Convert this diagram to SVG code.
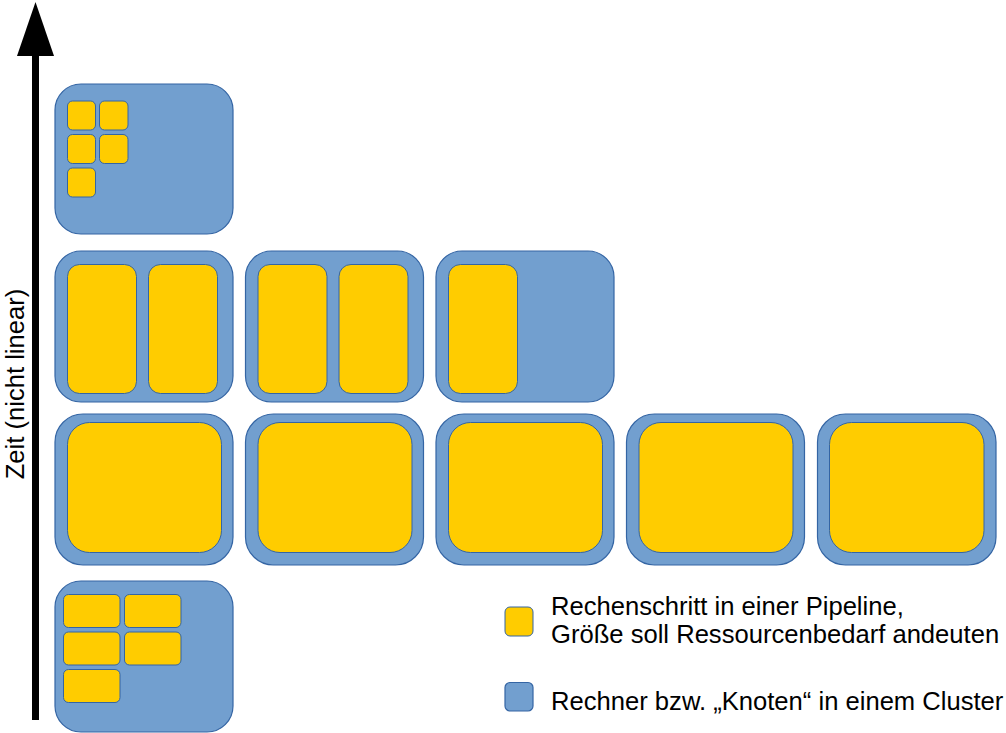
<svg xmlns="http://www.w3.org/2000/svg" width="1006" height="733" viewBox="0 0 1006 733">
<style>
.node{fill:#729fcf;stroke:#3465a4;stroke-width:1.2}
.step{fill:#ffcc00;stroke:#3465a4;stroke-width:1}
.txt{font-family:"Liberation Sans",Arial,sans-serif;font-size:25.6px;fill:#000}
</style>
<rect width="1006" height="733" fill="#fff"/>
<g id="axis">
<rect x="32" y="54" width="7" height="666" fill="#000"/>
<polygon points="35.5,2 17,56 54,56" fill="#000"/>
<text class="txt" transform="translate(24,384) rotate(-90)" text-anchor="middle">Zeit (nicht linear)</text>
</g>
<g id="node-top">
<rect class="node" x="55" y="84" width="178" height="150" rx="26"/>
<rect class="step" x="67.5" y="101" width="28" height="29" rx="5"/>
<rect class="step" x="99.5" y="101" width="28.5" height="29" rx="5"/>
<rect class="step" x="67.5" y="134.5" width="28" height="29" rx="5"/>
<rect class="step" x="99.5" y="134.5" width="28.5" height="29" rx="5"/>
<rect class="step" x="67.5" y="168" width="28" height="29" rx="5"/>
</g>
<g id="node-r2-1">
<rect class="node" x="55" y="251" width="178" height="151" rx="26"/>
<rect class="step" x="67.5" y="264.5" width="69" height="129" rx="12"/>
<rect class="step" x="148.5" y="264.5" width="69" height="129" rx="12"/>
</g>
<g id="node-r2-2">
<rect class="node" x="245.5" y="251" width="178" height="151" rx="26"/>
<rect class="step" x="258" y="264.5" width="69" height="129" rx="12"/>
<rect class="step" x="339" y="264.5" width="69" height="129" rx="12"/>
</g>
<g id="node-r2-3">
<rect class="node" x="436" y="251" width="178" height="151" rx="26"/>
<rect class="step" x="448.5" y="264.5" width="69" height="129" rx="12"/>
</g>
<g id="node-r3-1">
<rect class="node" x="55" y="414" width="178" height="151" rx="28"/>
<rect class="step" x="67.5" y="422.5" width="154" height="130" rx="22"/>
</g>
<g id="node-r3-2">
<rect class="node" x="245.5" y="414" width="178" height="151" rx="28"/>
<rect class="step" x="258" y="422.5" width="154" height="130" rx="22"/>
</g>
<g id="node-r3-3">
<rect class="node" x="436" y="414" width="178" height="151" rx="28"/>
<rect class="step" x="448.5" y="422.5" width="154" height="130" rx="22"/>
</g>
<g id="node-r3-4">
<rect class="node" x="626.5" y="414" width="178" height="151" rx="28"/>
<rect class="step" x="639" y="422.5" width="154" height="130" rx="22"/>
</g>
<g id="node-r3-5">
<rect class="node" x="817.5" y="414" width="178.5" height="151" rx="28"/>
<rect class="step" x="829.5" y="422.5" width="154.5" height="130" rx="22"/>
</g>
<g id="node-bottom">
<rect class="node" x="55" y="581" width="178" height="151" rx="26"/>
<rect class="step" x="63.5" y="594.5" width="56.5" height="33" rx="5"/>
<rect class="step" x="124.5" y="594.5" width="56.5" height="33" rx="5"/>
<rect class="step" x="63.5" y="632" width="56.5" height="33" rx="5"/>
<rect class="step" x="124.5" y="632" width="56.5" height="33" rx="5"/>
<rect class="step" x="63.5" y="669.5" width="56.5" height="33" rx="5"/>
</g>
<g id="connectors"></g>
<g id="legend">
<rect class="step" x="505" y="607" width="28" height="29" rx="5"/>
<text class="txt" x="551" y="614.5">Rechenschritt in einer Pipeline,</text>
<text class="txt" x="551" y="642.5">Größe soll Ressourcenbedarf andeuten</text>
<rect class="node" x="505" y="682.5" width="28" height="28.5" rx="5"/>
<text class="txt" x="551" y="709.5">Rechner bzw. „Knoten“ in einem Cluster</text>
</g>
</svg>
